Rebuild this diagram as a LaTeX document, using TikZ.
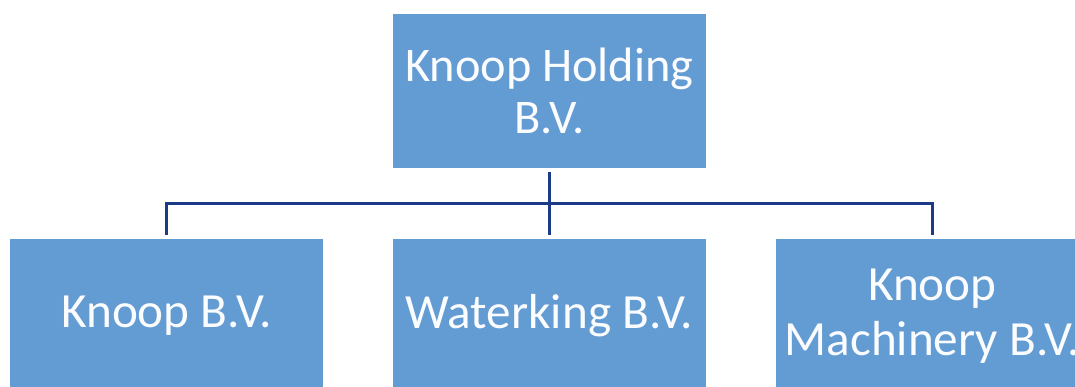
\documentclass[tikz,border=0pt]{standalone}
\usepackage{fontspec}
\setmainfont{Carlito}
\usepackage{xcolor}
\usepackage{tikz}
\usetikzlibrary{calc,positioning}
\definecolor{boxblue}{HTML}{639BD3}
\definecolor{linkblue}{HTML}{1B3A88}
\definecolor{boxtext}{HTML}{FBFCFE}
\tikzset{
  orgBox/.style={fill=boxblue, text=boxtext, minimum width=6.26cm, minimum height=3.08cm,
    inner sep=0pt, outer sep=2.4pt, align=center},
  orgTop/.style={orgBox, font=\fontsize{27.5}{29.5}\selectfont},
  orgChild/.style={orgBox, font=\fontsize{28}{31}\selectfont},
  orgLink/.style={draw=linkblue, line width=1.4pt}
}
\begin{document}
\begin{tikzpicture}
  \useasboundingbox (0,0) rectangle (21.5,-7.74);

  \node[orgTop] (holding) at (10.99,-1.82) {Knoop Holding\\B.V.};

  \node[orgChild] (waterking) at (10.99,-6.32) {Waterking B.V.};
  \node[orgChild, left=1.23cm of waterking] (knoop) {Knoop B.V.};
  \node[orgChild, right=1.23cm of waterking] (machinery) {Knoop\\Machinery B.V.};

  \coordinate (bar) at ($(holding.south)!0.5!(waterking.north)$);
  \foreach \n in {knoop,waterking,machinery}
    \draw[orgLink] (holding.south) -- (bar) -| (\n.north);
\end{tikzpicture}
\end{document}
